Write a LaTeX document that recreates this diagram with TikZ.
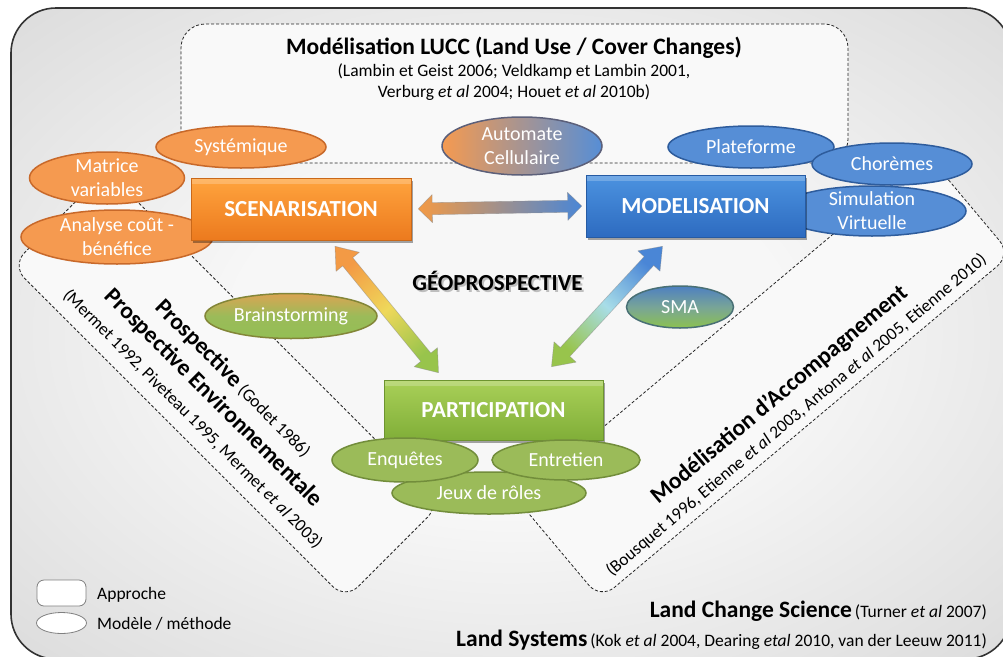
\documentclass[tikz,border=0pt]{standalone}
\usepackage{fontspec}
\setmainfont{Carlito}
\usetikzlibrary{shapes.geometric,calc,shadows}

\definecolor{frameC}{HTML}{333333}
\definecolor{bgA}{HTML}{F7F7F7}
\definecolor{bgB}{HTML}{D0D0D0}
\definecolor{bgC}{HTML}{B2B2B2}
\definecolor{paneC}{HTML}{F9F9F9}
\definecolor{ellO}{HTML}{F59A50}
\definecolor{ellOd}{HTML}{C8692A}
\definecolor{ellB}{HTML}{568ED6}
\definecolor{ellBd}{HTML}{2E5C9C}
\definecolor{ellG}{HTML}{9BBB59}
\definecolor{ellGd}{HTML}{728D3B}
\definecolor{boxOt}{HTML}{FFA43E}
\definecolor{boxOb}{HTML}{EC7A1E}
\definecolor{boxBt}{HTML}{4C93E0}
\definecolor{boxBb}{HTML}{2D6BC0}
\definecolor{boxGt}{HTML}{A9D058}
\definecolor{boxGb}{HTML}{80AE38}
\definecolor{arrO}{HTML}{F39A45}
\definecolor{arrY}{HTML}{EFD85A}
\definecolor{arrG}{HTML}{98C44C}
\definecolor{arrB}{HTML}{4A86D6}
\definecolor{arrC}{HTML}{A8DDE8}

\pgfdeclareradialshading{bgshade}{\pgfpoint{0bp}{0bp}}{color(0bp)=(bgA); color(14bp)=(bgA); color(45bp)=(bgB); color(72bp)=(bgC)}

\newcommand{\fatarrow}[6]{%
  \coordinate (fa1) at (#1);
  \coordinate (fa2) at (#2);
  \coordinate (fb1) at ($(fa1)!#4!(fa2)$);
  \coordinate (fb2) at ($(fa2)!#4!(fa1)$);
  \path[#3] (fa1) -- ($(fb1)!#5!90:(fa2)$) -- ($(fb1)!#6!90:(fa2)$)
    -- ($(fb2)!#6!-90:(fa1)$) -- ($(fb2)!#5!-90:(fa1)$) -- (fa2)
    -- ($(fb2)!#5!90:(fa1)$) -- ($(fb2)!#6!90:(fa1)$)
    -- ($(fb1)!#6!-90:(fa2)$) -- ($(fb1)!#5!-90:(fa2)$) -- cycle;
}

\begin{document}
\begin{tikzpicture}[x=1pt,y=-1pt,
  pane/.style={draw=black!85, fill=paneC, line width=0.8pt, dash pattern=on 3pt off 2pt, rounded corners=18pt, inner sep=0pt},
  bx/.style={rectangle, inner sep=0pt, text=white, font=\bfseries\fontsize{23}{27}\selectfont, draw=#1, line width=0.6pt,
     drop shadow={shadow xshift=1.5pt, shadow yshift=-2.5pt, opacity=0.35, fill=black},
     path picture={\fill[white, opacity=0.22] (path picture bounding box.north west) rectangle ([yshift=-6pt]path picture bounding box.north east);}},
  ell/.style={ellipse, inner sep=0pt, line width=1.5pt},
  ellt/.style={text=white, align=center, font=\fontsize{20}{24}\selectfont, inner sep=0pt},
  oell/.style={ell, fill=ellO, draw=ellOd},
  bell/.style={ell, fill=ellB, draw=ellBd},
  gell/.style={ell, fill=ellG, draw=ellGd},
  cite/.style={font=\fontsize{17.5}{21}\selectfont, inner sep=0pt},
  head/.style={font=\bfseries\fontsize{23.5}{28}\selectfont, inner sep=0pt},
  fat/.style={draw=black!45, draw opacity=0.5, line width=0.6pt, line join=round},
]
\useasboundingbox (0,0) rectangle (1003,656);
\clip (0,0) rectangle (1003,656);

% background frame
\shadedraw[shading=bgshade, draw=frameC, line width=1.6pt, rounded corners=45pt] (11,8) rectangle (1011,659);

% approach panes
\node[pane, rotate=-45, minimum width=472pt, minimum height=134pt] (lstrip) at (226,385) {};
\node[pane, rotate=40, minimum width=536pt, minimum height=130pt] (rstrip) at (764,377) {};
\node[pane, minimum width=667pt, minimum height=139pt, rounded corners=24pt] (lucc) at (514.5,93.5) {};

% pane texts
\node[head, anchor=base] (luccT) at (514,54) {Modélisation LUCC (Land Use / Cover Changes)};
\node[cite, anchor=base] (luccC1) at (514,76) {(Lambin et Geist 2006; Veldkamp et Lambin 2001,};
\node[cite, anchor=base] (luccC2) at (514,97) {Verburg \textit{et al} 2004; Houet \textit{et al} 2010b)};

\node[rotate=-45, align=center, inner sep=0pt, font=\fontsize{17.5}{28}\selectfont] (ltext) at (214,398)
  {{\bfseries\fontsize{23.5}{28}\selectfont Prospective} (Godet 1986)\\
   {\bfseries\fontsize{23.5}{28}\selectfont Prospective Environnementale}\\
   (Mermet 1992, Piveteau 1995, Mermet \textit{et al} 2003)};

\node[rotate=40, align=center, inner sep=0pt, font=\fontsize{17.5}{25}\selectfont] (rtext) at (787,404)
  {{\bfseries\fontsize{23.5}{25}\selectfont Modélisation d’Accompagnement}\\
   (Bousquet 1996, Etienne \textit{et al} 2003, Antona \textit{et al} 2005, Etienne 2010)};

\node[anchor=base east, inner sep=0pt] (lcs) at (987,617)
  {{\bfseries\fontsize{23.5}{28}\selectfont Land Change Science}\hspace{3pt}{\fontsize{17.5}{21}\selectfont(Turner \textit{et al} 2007)}};
\node[anchor=base east, inner sep=0pt] (lsys) at (987,646)
  {{\bfseries\fontsize{23.5}{28}\selectfont Land Systems}\hspace{3pt}{\fontsize{17.5}{21}\selectfont(Kok \textit{et al} 2004, Dearing \textit{etal} 2010, van der Leeuw 2011)}};

% ellipses behind boxes
\node[oell, minimum width=192pt, minimum height=54pt, label={[ellt]center:{Analyse coût -\\bénéfice}}] (ana) at (117,237) {};
\node[bell, minimum width=188pt, minimum height=50pt, label={[ellt]center:{Simulation\\Virtuelle}}] (simv) at (872,211) {};

% boxes
\node[bx=boxOb!85!black, top color=boxOt, bottom color=boxOb, minimum width=220pt, minimum height=62pt] (scen) at (301,209) {SCENARISATION};
\node[bx=boxBb!85!black, top color=boxBt, bottom color=boxBb, minimum width=219pt, minimum height=62pt] (mod) at (695.5,206) {MODELISATION};
\node[bx=boxGb!85!black, top color=boxGt, bottom color=boxGb, minimum width=219pt, minimum height=60pt] (part) at (493.5,410) {PARTICIPATION};

% arrows
\fatarrow{$(scen.east)!7pt!(mod.west)$}{$(mod.west)!4pt!(scen.east)$}{fat, left color=arrO, right color=arrB}{14pt}{14pt}{6pt}
\fatarrow{$(scen.south)+(34,6)$}{$(part.north)+(-55,-7)$}{fat, top color=arrO, bottom color=arrG, middle color=arrY, shading angle=39}{20pt}{15pt}{6.5pt}
\fatarrow{$(mod.south)+(-33,9)$}{$(part.north)+(58,-13)$}{fat, top color=arrB, bottom color=arrG, middle color=arrC, shading angle=-42}{20pt}{15pt}{6.5pt}

% title of the centre
\node[font=\bfseries\fontsize{23}{27}\selectfont, text=black!40, opacity=0.6, inner sep=0pt] (geosh) at (499.5,282.5) {GÉOPROSPECTIVE};
\node[font=\bfseries\fontsize{23}{27}\selectfont, inner sep=0pt] (geo) at (497.5,280.5) {GÉOPROSPECTIVE};

% ellipses
\node[oell, minimum width=170pt, minimum height=42pt, label={[ellt]center:Systémique}] (sys) at (241,147) {};
\node[oell, minimum width=155pt, minimum height=52pt, label={[ellt]center:{Matrice\\variables}}] (mat) at (107,178) {};
\node[ell, left color=ellO, right color=ellB, draw=ellBd!70!ellOd, minimum width=160pt, minimum height=58pt, label={[ellt]center:{Automate\\Cellulaire}}] (auto) at (522,146) {};
\node[bell, minimum width=166pt, minimum height=42pt, label={[ellt]center:Plateforme}] (plat) at (751,147) {};
\node[bell, minimum width=160pt, minimum height=42pt, label={[ellt]center:Chorèmes}] (chor) at (892,164) {};
\node[ell, top color=ellO!70!ellG, bottom color=ellG!95!green, middle color=ellG, draw=ellGd!80!ellOd, minimum width=172pt, minimum height=45pt, label={[ellt]center:Brainstorming}] (brain) at (291,316) {};
\node[ell, top color=ellB!90!black, bottom color=ellG!90!green, middle color=ellB!50!ellG, draw=ellBd!60!ellGd, minimum width=107pt, minimum height=42pt, label={[ellt]center:SMA}] (sma) at (680,307) {};
\node[gell, minimum width=194pt, minimum height=42pt, label={[ellt]center:Jeux de rôles}] (jeux) at (489,493) {};
\node[gell, minimum width=146pt, minimum height=44pt, label={[ellt]center:Enquêtes}] (enq) at (405,460) {};
\node[gell, minimum width=148pt, minimum height=40pt, label={[ellt]center:Entretien}] (entr) at (566,460) {};

% legend
\node[draw=black!50, fill=white, rounded corners=7pt, minimum width=49pt, minimum height=26pt, line width=0.8pt] (lga) at (61.5,593) {};
\node[ellipse, draw=black!50, fill=white, minimum width=50pt, minimum height=21pt, inner sep=0pt, line width=0.8pt] (lgb) at (61.5,623) {};
\node[cite, anchor=base west] (lgat) at (97,599) {Approche};
\node[cite, anchor=base west] (lgbt) at (97,629) {Modèle / méthode};
\end{tikzpicture}
\end{document}
